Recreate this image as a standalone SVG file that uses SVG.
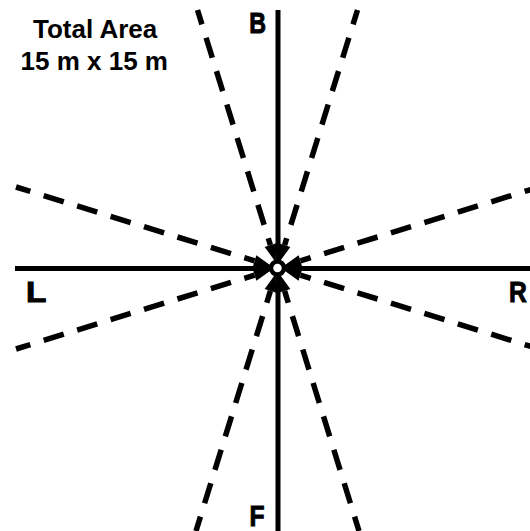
<svg xmlns="http://www.w3.org/2000/svg" width="530" height="531" viewBox="0 0 530 531">
  <style>
    .axis { stroke: #000; stroke-width: 5; fill: none; }
    .ray { stroke: #000; stroke-width: 5.5; fill: none; stroke-dasharray: 21 14; stroke-dashoffset: 6; marker-end: url(#ah); }
    .title { font-family: "Liberation Sans", Arial, sans-serif; font-weight: bold; font-size: 26px; fill: #000; }
    .lbl { font-family: "Liberation Sans", Arial, sans-serif; font-weight: bold; font-size: 29px; fill: #000; stroke: #000; stroke-width: 1; }
  </style>
  <defs>
    <marker id="ah" markerUnits="userSpaceOnUse" markerWidth="18" markerHeight="12" viewBox="0 0 18 12" refX="0" refY="6" orient="auto" overflow="visible">
      <path d="M0,0 L18,6 L0,12 z" fill="#000"/>
    </marker>
  </defs>
  <rect width="530" height="531" fill="#fff"/>

  <g id="connectors">
    <line class="axis" x1="278" y1="10" x2="278" y2="531"/>
    <line class="axis" x1="15" y1="268.5" x2="530" y2="268.5"/>
    <path class="ray" d="M197.5,10 L270.4,245.1"/>
    <path class="ray" d="M357.5,10 L284.6,245.1"/>
    <path class="ray" d="M196,531 L270.4,290.9"/>
    <path class="ray" d="M359,531 L284.6,290.9"/>
    <path class="ray" d="M16,187 L254.6,260.9"/>
    <path class="ray" d="M16,349 L254.6,275.1"/>
    <path class="ray" d="M539,187 L300.4,260.9"/>
    <path class="ray" d="M539,349 L300.4,275.1"/>
  </g>

  <g id="center">
    <circle cx="277.5" cy="268" r="6.5" fill="#fff" stroke="#000" stroke-width="4.5"/>
  </g>

  <g id="title">
    <text class="title" x="33" y="37.5">Total Area</text>
    <text class="title" x="20.5" y="70">15 m x 15 m</text>
  </g>

  <g id="label-B">
    <text class="lbl" transform="translate(249.3,33.3) scale(0.8,1)">B</text>
  </g>
  <g id="label-F">
    <text class="lbl" transform="translate(249.6,526) scale(0.85,1)">F</text>
  </g>
  <g id="label-L">
    <text class="lbl" transform="translate(26,302) scale(1.15,1)">L</text>
  </g>
  <g id="label-R">
    <text class="lbl" transform="translate(509,302) scale(0.85,1)">R</text>
  </g>
</svg>
